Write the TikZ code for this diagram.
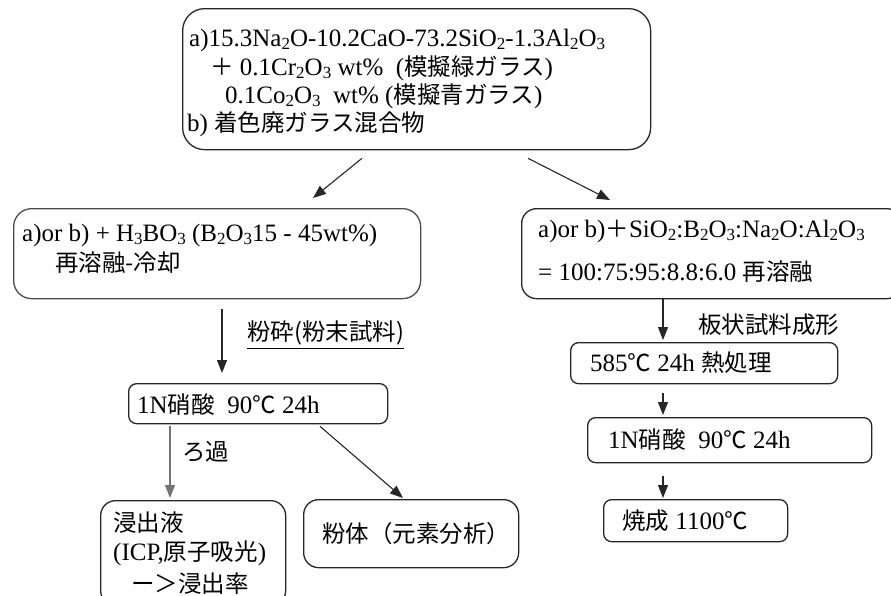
\documentclass[tikz,border=0pt]{standalone}
\usepackage{fontspec}
\setmainfont{Liberation Serif}
\newfontfamily\jp{Noto Sans CJK JP}[Scale=0.94]
\usetikzlibrary{arrows.meta}
\newcommand\sub[1]{\raisebox{-0.32ex}{\fontsize{17}{17}\selectfont #1}}
\begin{document}
\begin{tikzpicture}[x=1pt,y=-1pt,
  box/.style={draw=black!85, line width=1.3pt, rounded corners=#1, inner sep=0pt, anchor=north west},
  box/.default=8pt,
  txt/.style={anchor=west, inner sep=0pt, font=\fontsize{25}{30}\selectfont},
  arr/.style={-{Triangle[length=13pt,width=10pt]}, line width=1.1pt, draw=black!85}]
\useasboundingbox (0,0) rectangle (891,595);

% boxes
\node[box=22pt, minimum width=468pt, minimum height=141pt] (top) at (182,8) {};
\node[box=18pt, draw=black!70, minimum width=407pt, minimum height=90pt] (lb) at (13,208) {};
\node[box=15pt, minimum width=380pt, minimum height=90pt] (rb) at (521,208) {};
\node[box=8pt, minimum width=259pt, minimum height=40pt] (n1) at (128,383) {};
\node[box=15pt, minimum width=185pt, minimum height=105pt] (lq) at (100,500) {};
\node[box=15pt, minimum width=215pt, minimum height=68pt] (pw) at (303,499) {};
\node[box=8pt, minimum width=267pt, minimum height=41pt] (h) at (570,342) {};
\node[box=8pt, minimum width=284pt, minimum height=45pt] (n2) at (587,417) {};
\node[box=8pt, minimum width=184pt, minimum height=42pt] (f) at (603,499) {};

% texts: top box
\node[txt] (t1) at (189,40) {a)15.3Na\sub2O-10.2CaO-73.2SiO\sub2-1.3Al\sub2O\sub3};
\node[txt] (t2) at (210,68) {{\jp ＋} 0.1Cr\sub2O\sub3 wt\%~ ({\jp 模擬緑ガラス})};
\node[txt] (t3) at (225,96) {0.1Co\sub2O\sub3~ wt\% ({\jp 模擬青ガラス})};
\node[txt] (t4) at (187,124) {b) {\jp 着色廃ガラス混合物}};

% left box
\node[txt] (t5) at (22,235) {a)or b) + H\sub3BO\sub3 (B\sub2O\sub315 - 45wt\%)};
\node[txt] (t6) at (55,263) {{\jp 再溶融-冷却}};

% right box
\node[txt] (t7) at (538,231) {a)or b){\jp ＋}SiO\sub2:B\sub2O\sub3:Na\sub2O:Al\sub2O\sub3};
\node[txt] (t8) at (538,272) {= 100:75:95:8.8:6.0 {\jp 再溶融}};

% left column
\node[txt] (u) at (247,333) {{\jp 粉砕(粉末試料)}};
\draw[line width=0.9pt] ([yshift=-3pt]u.south west) -- ([yshift=-3pt]u.south east);
\node[txt] (t9) at (137,405) {1N{\jp 硝酸}~~90{\jp ℃} 24h};
\node[txt] (t10) at (182,452) {{\jp ろ過}};
\node[txt] (t11) at (113,523) {{\jp 浸出液}};
\node[txt] (t12) at (113,553) {(ICP,{\jp 原子吸光})};
\node[txt] (t13) at (131,584) {{\jp ー＞浸出率}};
\node[txt] (t14) at (322,534) {{\jp 粉体（元素分析）}};

% right column
\node[txt] (t15) at (698,325) {{\jp 板状試料成形}};
\node[txt] (t16) at (590,363) {585{\jp ℃} 24h {\jp 熱処理}};
\node[txt] (t17) at (608,440) {1N{\jp 硝酸}~~90{\jp ℃} 24h};
\node[txt] (t18) at (622,521) {{\jp 焼成} 1100{\jp ℃}};

% connectors
\draw[arr] ([xshift=180pt,yshift=-8pt]top.south west) -- ([xshift=300pt,yshift=10pt]lb.north west);
\draw[arr] ([xshift=346pt,yshift=-8pt]top.south west) -- ([xshift=89pt,yshift=8pt]rb.north west);
\draw[arr] ([xshift=209pt,yshift=-10pt]lb.south west) -- ([xshift=94pt,yshift=10pt]n1.north west);
\draw[arr, draw=black!55] ([xshift=42pt,yshift=-2pt]n1.south west) -- ([xshift=70pt,yshift=2pt]lq.north west);
\draw[arr] ([xshift=192pt,yshift=-2pt]n1.south west) -- ([xshift=100pt,yshift=1pt]pw.north west);
\draw[arr] ([xshift=142pt]rb.south west) -- ([xshift=93pt,yshift=2pt]h.north west);
\draw[arr] ([xshift=93pt,yshift=-9pt]h.south west) -- ([xshift=76pt,yshift=2pt]n2.north west);
\draw[arr] ([xshift=76pt,yshift=-13pt]n2.south west) -- ([xshift=60pt,yshift=1pt]f.north west);
\end{tikzpicture}
\end{document}
